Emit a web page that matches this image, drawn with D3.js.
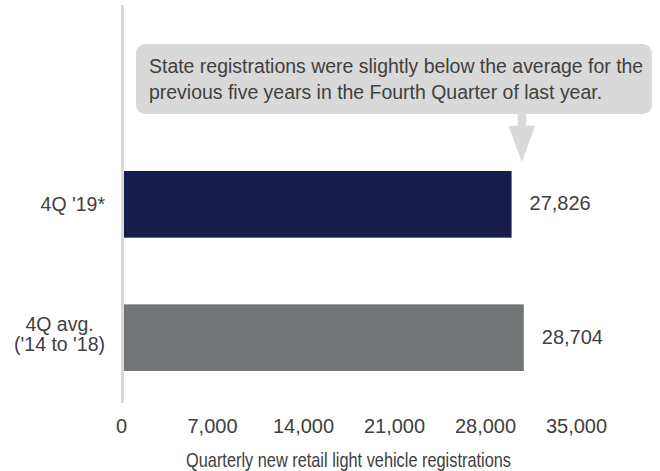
<!DOCTYPE html>
<html>
<head>
<meta charset="utf-8">
<script src="https://cdn.jsdelivr.net/npm/d3@7"></script>
<style>
  body { margin: 0; background: #fff; }
  text { font-family: "Liberation Sans", Arial, sans-serif; fill: #404040; }
</style>
</head>
<body>
<div id="chart"></div>
<script>
// Chart data
var categoryLines = [["4Q '19*"], ["4Q avg.", "('14 to '18)"]];
var values = [27826, 28704];
var tickValues = [0, 7000, 14000, 21000, 28000, 35000];
var calloutLines = [
    "State registrations were slightly below the average for the",
    "previous five years in the Fourth Quarter of last year."
];
var axisTitle = "Quarterly new retail light vehicle registrations";

// Size and colours
var width = 660;
var height = 471;
var barColors = ["#171c4a", "#727676"];
var lightGray = "#d9d9d9";

var svg = d3.select("#chart")
    .append("svg")
    .attr("width", width)
    .attr("height", height);

// bars and tick labels are not on quite the same spacing in the original
var xBar = d3.scaleLinear().domain([0, 35000]).range([124, 611.5]);
var xTick = d3.scaleLinear().domain([0, 35000]).range([121, 576]);
var y = d3.scaleBand()
    .domain(d3.range(values.length))
    .range([104.3, 437.7])
    .paddingInner(0.5)
    .paddingOuter(0.5);

// vertical axis line
svg.append("line")
    .attr("x1", 122.5).attr("x2", 122.5)
    .attr("y1", 5).attr("y2", 403)
    .style("stroke", lightGray)
    .style("stroke-width", 3);

// bars
svg.selectAll("rect.bar")
    .data(values)
    .enter()
    .append("rect")
    .attr("class", "bar")
    .attr("x", xBar(0))
    .attr("y", function(d, i) { return y(i); })
    .attr("width", function(d) { return xBar(d) - xBar(0); })
    .attr("height", y.bandwidth())
    .style("fill", function(d, i) { return barColors[i]; });

// value labels
svg.selectAll("text.value")
    .data(values)
    .enter()
    .append("text")
    .attr("class", "value")
    .attr("x", function(d) { return xBar(d) + 18; })
    .attr("y", function(d, i) { return y(i) + y.bandwidth() / 2; })
    .attr("dy", "0.3em")
    .style("font-size", "20px")
    .text(function(d) { return d3.format(",")(d); });

// category labels, lines centred inside a right-aligned block
categoryLines.forEach(function(lines, i) {
    var g = svg.append("g");
    var cy = y(i) + y.bandwidth() / 2;
    var texts = lines.map(function(line, j) {
        return g.append("text")
            .attr("y", cy + (j - (lines.length - 1) / 2) * 20 - (lines.length - 1) * 3)
            .attr("dy", "0.33em")
            .style("font-size", "19.5px")
            .style("text-anchor", "middle")
            .text(line);
    });
    var w = d3.max(texts, function(t) { return t.node().getComputedTextLength(); });
    texts.forEach(function(t) { t.attr("x", 105 - w / 2); });
});

// x tick labels
var axis = svg.append("g")
    .attr("transform", "translate(0,410)")
    .call(d3.axisBottom(xTick)
        .tickValues(tickValues)
        .tickSize(0)
        .tickPadding(9)
        .tickFormat(d3.format(",")));
axis.select(".domain").remove();
axis.selectAll("text")
    .style("font-family", "\"Liberation Sans\", Arial, sans-serif")
    .style("font-size", "20px")
    .style("fill", "#404040");

// axis title (original font is condensed, so squeeze it horizontally)
svg.append("text")
    .attr("transform", "translate(" + (xTick(0) + xTick(35000)) / 2 + ",466.7) scale(0.817,1)")
    .style("text-anchor", "middle")
    .style("font-size", "20px")
    .text(axisTitle);

// callout box with arrow pointing at the bars
svg.append("rect")
    .attr("x", 136).attr("y", 44)
    .attr("width", 516).attr("height", 70)
    .attr("rx", 9)
    .style("fill", lightGray);

svg.selectAll("text.callout")
    .data(calloutLines)
    .enter()
    .append("text")
    .attr("class", "callout")
    .attr("transform", function(d, i) { return "translate(149," + (73.3 + i * 26) + ") scale(0.927,1)"; })
    .style("font-size", "21px")
    .text(function(d) { return d; });

var ax = xBar(values[1]) - 2;
svg.append("path")
    .attr("d", "M" + (ax - 4.2) + ",113 L" + (ax + 4.2) + ",113 L" + (ax + 4.2) + ",125.7 L" +
        (ax + 13.3) + ",125.7 L" + ax + ",162.3 L" + (ax - 13.3) + ",125.7 L" + (ax - 4.2) + ",125.7 Z")
    .style("fill", lightGray);
</script>
</body>
</html>
